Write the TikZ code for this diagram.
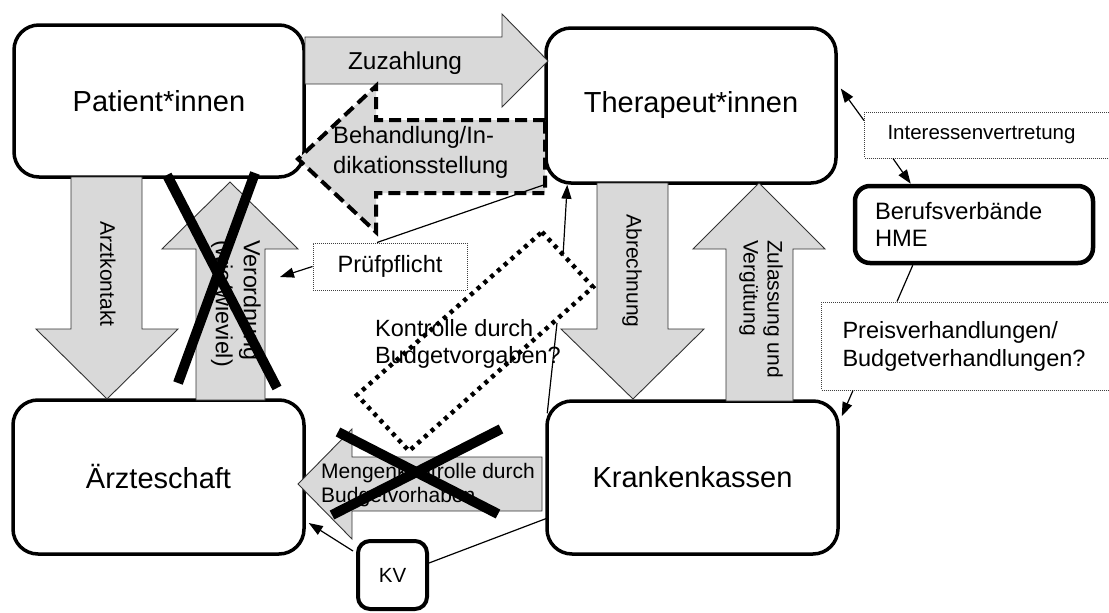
\documentclass[tikz,border=0pt]{standalone}
\usepackage{fontspec}
\setmainfont{Liberation Sans}
\usetikzlibrary{arrows.meta,calc}
\newcommand\fsz[2]{\fontsize{#1pt}{#2pt}\selectfont}
\definecolor{blkfill}{HTML}{D9D9D9}
\tikzset{
  bigbox/.style={draw, line width=3.5pt, rounded corners=25pt, fill=white, inner sep=0pt, font=\fsz{29}{34}},
  dotbox/.style={draw=black!75, dash pattern=on 1pt off 1pt, line width=1pt},
  blk/.style={fill=blkfill, draw=black!80, line width=0.9pt},
  lbl/.style={inner sep=0pt, align=left},
  conn/.style={line width=1.2pt},
  arr/.style={conn, -{Triangle[length=14pt,width=10pt]}},
  xmark/.style={line width=10pt},
}
\begin{document}
\begin{tikzpicture}[x=1pt,y=-1pt]
\useasboundingbox (0,0) rectangle (1109,613);
\clip (0,0) rectangle (1109,613);
% main boxes
\node[bigbox, minimum width=290pt, minimum height=152pt] (pat) at (159,101) {Patient*innen};
\node[bigbox, minimum width=290pt, minimum height=155pt] (ther) at (691,105.5) {Therapeut*innen};
\node[bigbox, minimum width=291pt, minimum height=154pt] (arzt) at (158.5,477) {Ärzteschaft};
\node[bigbox, minimum width=291pt, minimum height=153pt] (kk) at (692.5,477.5) {Krankenkassen};
\node[bigbox, line width=4pt, rounded corners=12pt, minimum width=69pt, minimum height=68pt, font=\fsz{20.5}{24}] (kv) at (392.5,575) {KV};
\node[draw, line width=4.5pt, rounded corners=15pt, fill=white, minimum width=238pt, minimum height=77pt,
      text width=198pt, inner xsep=20pt, inner ysep=0pt, align=left, font=\fsz{23.7}{27}] (bv) at (974,224.5) {Berufsverbände\\HME};
% dotted label boxes
\node[dotbox, anchor=west, minimum height=46pt, text width=227pt, inner xsep=23pt, inner ysep=0pt, align=left, font=\fsz{20.5}{24}] (inter) at (864,135) {Interessenvertretung};
\node[dotbox, anchor=west, minimum height=88pt, text width=280pt, inner xsep=21pt, inner ysep=0pt, align=left, font=\fsz{23.5}{28}] (preis) at (821,346) {Preisverhandlungen/\\Budgetverhandlungen?};
\node[dotbox, minimum width=154pt, minimum height=47pt, inner sep=0pt, font=\fsz{23.6}{28}] (pruef) at (390,266.5) {Prüfpflicht};
% block arrows
\draw[blk] (305,37) -- (502,37) -- (502,14) -- (548,61) -- (502,107) -- (502,84) -- (305,84) -- cycle;
\draw[fill=blkfill, draw=black, line width=4pt, dash pattern=on 12pt off 6pt]
  (545,120) -- (376,120) -- (376,86) -- (298,159) -- (376,232) -- (376,193) -- (545,193) -- cycle;
\draw[blk] (71,177) -- (142,177) -- (142,329) -- (178,329) -- (107,399) -- (36,329) -- (71,329) -- cycle;
\draw[blk] (196,400) -- (196,249) -- (162,249) -- (230,182) -- (298,249) -- (265,249) -- (265,400) -- cycle;
\draw[blk] (597,183) -- (668,183) -- (668,329) -- (704,329) -- (633,399) -- (561,329) -- (597,329) -- cycle;
\draw[blk] (726,401) -- (726,249) -- (693,249) -- (759,183) -- (825,249) -- (793,249) -- (793,401) -- cycle;
\draw[blk] (542,457) -- (352,457) -- (352,429) -- (298,484) -- (352,539) -- (352,511) -- (542,511) -- cycle;
% arrow labels
\node[lbl, font=\fsz{24.4}{28}] (tzu) at (405,63) {Zuzahlung};
\node[lbl, anchor=west, font=\fsz{23.7}{30}] (tbeh) at (333,152) {Behandlung/In-\\dikationsstellung};
\node[lbl, rotate=-90, font=\fsz{21}{24}] (tarzt) at (108,274) {Arztkontakt};
\node[lbl, rotate=-90, font=\fsz{23.3}{28}] (tver) at (236,303.5) {Verordnung\\(wie/wieviel)};
\node[lbl, rotate=-90, font=\fsz{21}{24}] (tabr) at (632,271) {Abrechnung};
\node[lbl, rotate=-90, font=\fsz{21}{24}] (tzul) at (761,309) {Zulassung und\\Vergütung};
\node[lbl, anchor=west, font=\fsz{21}{24}] (tmen) at (321,485) {Mengenkontrolle durch\\Budgetvorhaben};
\node[lbl, anchor=west, font=\fsz{23.5}{27}] (tkon) at (375,344) {Kontrolle durch\\Budgetvorgaben?};
% dotted rotated rectangle
\draw[line width=4.5pt, dash pattern=on 4pt off 5pt] (542,232) -- (593,287) -- (409,451) -- (357,395) -- cycle;
% crosses
\draw[xmark] (167,175) -- (277,388);
\draw[xmark] (255,173) -- (178,383);
\draw[xmark] (338,432) -- (498,514);
\draw[xmark] (501,429) -- (332,515);
% connectors
\coordinate (p1) at (280,277);
\coordinate (k1) at (563,256);
\coordinate (k2) at (557,323);
\draw[conn] ([xshift=-13pt]pruef.north) -- (ther.south west);
\draw[arr] (pruef.west) -- (p1);
\draw[arr] (k1) -- ($(ther.south west)+(23,0)$);
\draw[conn] (k2) -- ($(kk.north west)+(2,14)$);
\draw[arr] ($(inter.south west)+(0,-38)$) -- ($(ther.east)+(3,-17)$);
\draw[arr] ($(inter.south west)+(29,0)$) -- ($(bv.north west)+(58,0)$);
\draw[conn] ($(bv.south west)+(60,0)$) -- ($(preis.north west)+(76,0)$);
\draw[arr] ($(preis.south west)+(32,0)$) -- ($(kk.north east)+(2,17)$);
\draw[arr] ($(kv.north west)+(-3,12)$) -- ($(arzt.east)+(3,46)$);
\draw[conn] ($(kv.east)+(0,-12)$) -- ($(kk.west)+(1,41)$);
\end{tikzpicture}
\end{document}
